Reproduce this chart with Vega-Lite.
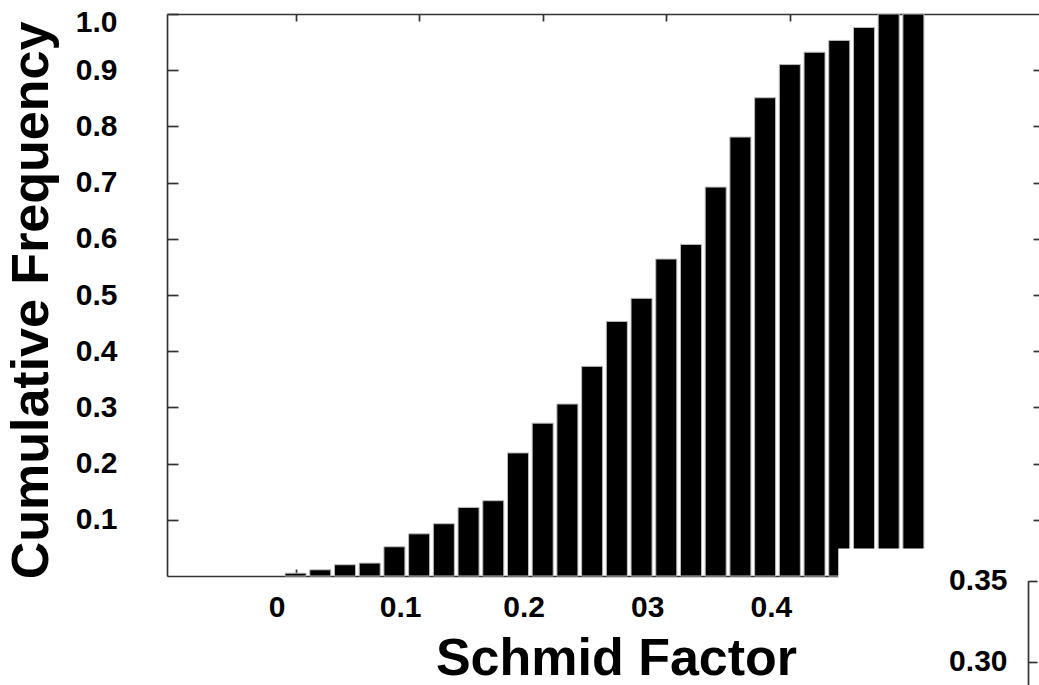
{
  "$schema": "https://vega.github.io/schema/vega-lite/v6.json",
  "width": 872,
  "height": 562,
  "autosize": {"type": "none"},
  "padding": {"left": 167, "top": 14, "right": 0, "bottom": 109},
  "background": "white",
  "config": {
    "view": {"stroke": null},
    "font": "Liberation Sans",
    "axis": {
      "labelFont": "Liberation Sans",
      "titleFont": "Liberation Sans",
      "labelFontWeight": "bold",
      "titleFontWeight": "bold",
      "labelColor": "black",
      "titleColor": "black",
      "domainColor": "#333333",
      "tickColor": "#333333",
      "domainWidth": 1.7,
      "tickWidth": 1.7,
      "grid": false,
      "labelOverlap": false,
      "labelFlush": false
    }
  },
  "datasets": {
    "cdf": [
      {"sf": 0.00, "cf": 0.005},
      {"sf": 0.02, "cf": 0.011},
      {"sf": 0.04, "cf": 0.020},
      {"sf": 0.06, "cf": 0.023},
      {"sf": 0.08, "cf": 0.052},
      {"sf": 0.10, "cf": 0.075},
      {"sf": 0.12, "cf": 0.093},
      {"sf": 0.14, "cf": 0.122},
      {"sf": 0.16, "cf": 0.134},
      {"sf": 0.18, "cf": 0.219},
      {"sf": 0.20, "cf": 0.272},
      {"sf": 0.22, "cf": 0.306},
      {"sf": 0.24, "cf": 0.373},
      {"sf": 0.26, "cf": 0.453},
      {"sf": 0.28, "cf": 0.494},
      {"sf": 0.30, "cf": 0.564},
      {"sf": 0.32, "cf": 0.590},
      {"sf": 0.34, "cf": 0.692},
      {"sf": 0.36, "cf": 0.781},
      {"sf": 0.38, "cf": 0.851},
      {"sf": 0.40, "cf": 0.910},
      {"sf": 0.42, "cf": 0.932},
      {"sf": 0.44, "cf": 0.953},
      {"sf": 0.46, "cf": 0.976},
      {"sf": 0.48, "cf": 1.0},
      {"sf": 0.50, "cf": 1.0}
    ],
    "inset": [{"v": 0.30}, {"v": 0.35}]
  },
  "layer": [
    {
      "data": {"name": "cdf"},
      "mark": {"type": "bar", "width": 21, "fill": "black", "stroke": "#bbbbbb", "strokeWidth": 1},
      "encoding": {
        "x": {
          "field": "sf", "type": "quantitative",
          "scale": {"domain": [-0.1, 0.5976], "nice": false, "zero": false},
          "axis": {
            "orient": "bottom",
            "values": [0, 0.1, 0.2, 0.3, 0.4],
            "labelExpr": "datum.value == 0 ? '0' : (abs(datum.value - 0.3) < 0.001 ? '03' : format(datum.value, '.1f'))",
            "labelFontSize": 30,
            "labelOffset": -19,
            "tickSize": -7,
            "labelPadding": 23,
            "title": "Schmid Factor",
            "titleFontSize": 52,
            "titleX": 449,
            "titleY": 98,
            "titleBaseline": "alphabetic",
            "titleAlign": "center"
          }
        },
        "y": {
          "field": "cf", "type": "quantitative",
          "scale": {"domain": [0, 1], "nice": false},
          "axis": {
            "orient": "left",
            "values": [0.1, 0.2, 0.3, 0.4, 0.5, 0.6, 0.7, 0.8, 0.9, 1.0],
            "format": ".1f",
            "labelFontSize": 30,
            "tickSize": -11,
            "labelPadding": 61,
            "labelFlush": true,
            "labelFlushOffset": 7,
            "title": "Cumulative Frequency",
            "titleFontSize": 52,
            "titleAngle": 270,
            "titleX": -120,
            "titleY": 286,
            "titleBaseline": "alphabetic",
            "titleAlign": "center"
          }
        }
      }
    },
    {
      "data": {"name": "cdf"},
      "mark": {"type": "bar", "width": 21, "opacity": 0},
      "encoding": {
        "x": {
          "field": "sf", "type": "quantitative",
          "scale": {"domain": [-0.1, 0.5976], "nice": false, "zero": false},
          "axis": {"orient": "top", "values": [0, 0.1, 0.2, 0.3, 0.4, 0.5], "labels": false, "tickSize": -7, "title": null}
        },
        "y": {
          "field": "cf", "type": "quantitative",
          "scale": {"domain": [0, 1], "nice": false},
          "axis": {"orient": "right", "values": [0.1, 0.2, 0.3, 0.4, 0.5, 0.6, 0.7, 0.8, 0.9], "labels": false, "domain": false, "tickSize": -6, "title": null}
        }
      }
    },
    {
      "data": {"values": [{}]},
      "mark": {"type": "rect", "fill": "white", "strokeWidth": 0},
      "encoding": {
        "x": {"datum": 0.4392, "type": "quantitative", "scale": {"domain": [-0.1, 0.5976], "nice": false, "zero": false}, "axis": null},
        "x2": {"datum": 0.65},
        "y": {"datum": 0.049, "type": "quantitative", "scale": {"domain": [0, 1], "nice": false}, "axis": null},
        "y2": {"datum": -0.3}
      }
    },
    {
      "data": {"name": "inset"},
      "mark": {"type": "point", "opacity": 0},
      "encoding": {
        "y": {
          "field": "v", "type": "quantitative",
          "scale": {"domain": [0.25, 0.35], "range": [728.7, 566.7], "nice": false, "zero": false},
          "axis": {
            "orient": "left",
            "offset": -861,
            "zindex": 2,
            "values": [0.30, 0.35],
            "format": ".2f",
            "labelFontSize": 30,
            "tickSize": -9,
            "labelPadding": 30,
            "title": null
          }
        }
      }
    }
  ],
  "resolve": {"scale": {"y": "independent"}, "axis": {"x": "independent", "y": "independent"}}
}
